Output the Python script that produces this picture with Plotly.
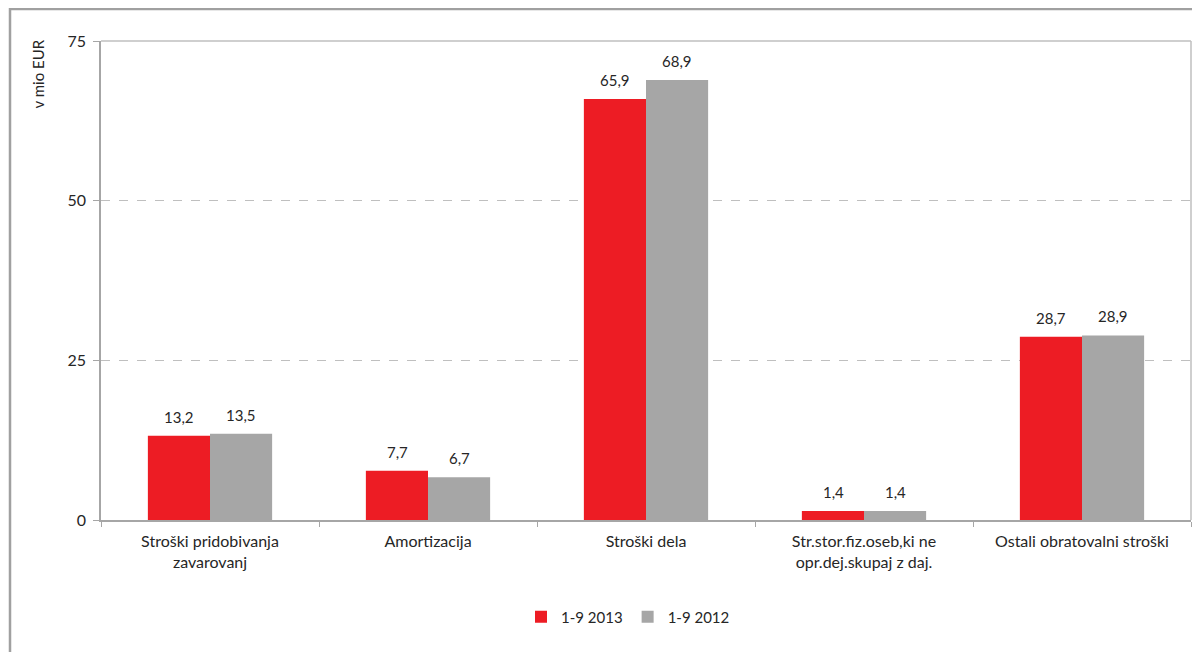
import plotly.graph_objects as go

# podatki
categories = [
    'Stroški pridobivanja<br>zavarovanj',
    'Amortizacija',
    'Stroški dela',
    'Str.stor.fiz.oseb,ki ne<br>opr.dej.skupaj z daj.',
    'Ostali obratovalni stroški',
]
vals_2013 = [13.2, 7.7, 65.9, 1.4, 28.7]
vals_2012 = [13.5, 6.7, 68.9, 1.4, 28.9]
y_ticks = [0, 25, 50, 75]

RED = '#ED1C24'
GREY = '#A6A6A6'
FONT = 'Lato'
TXT = '#262626'

# stran ima 8px odmika, zato vse pozicije v pikslih zamaknemo
OFF = 8
W, H = 1200, 652
L, T = 101 - OFF, 41 - OFF
R = W - (1191 - OFF)
B = H - (520 - OFF)
pw, ph = W - L - R, H - T - B

fig = go.Figure()

series = [('1-9 2013', vals_2013, RED, -31), ('1-9 2012', vals_2012, GREY, 31)]
for name, vals, col, shift in series:
    fig.add_trace(go.Bar(
        x=categories, y=vals, name=name,
        marker=dict(color=col, line=dict(width=0)),
    ))
    # oznake vrednosti nad stolpci
    for c, v in zip(categories, vals):
        fig.add_annotation(
            x=c, y=v, xref='x', yref='y',
            text=f'{v:.1f}'.replace('.', ','),
            showarrow=False, xshift=shift, yshift=8,
            yanchor='bottom', xanchor='center',
            font=dict(size=15, color=TXT),
        )

fig.update_layout(
    width=W, height=H,
    margin=dict(l=L, r=R, t=T, b=B, autoexpand=False),
    paper_bgcolor='white',
    plot_bgcolor='white',
    barmode='group',
    bargap=0.43,
    bargroupgap=0,
    separators=',.',
    font=dict(family=FONT, size=15, color=TXT),
    showlegend=True,
    legend=dict(
        orientation='h', x=(628 - 101) / pw, xanchor='center',
        y=-(617 - 520) / ph, yanchor='middle',
        font=dict(size=15), itemwidth=30,
        traceorder='normal',
    ),
)

fig.update_xaxes(
    type='category',
    tickson='boundaries',
    ticks='outside', ticklen=5, tickcolor='#a6a6a6',
    showline=True, linecolor='#a6a6a6', linewidth=1.5,
    showgrid=False,
    tickfont=dict(size=16),
    ticklabelstandoff=6,
)
fig.update_yaxes(
    range=[0, 75],
    tickvals=y_ticks,
    ticks='outside', ticklen=6, tickcolor='#a6a6a6',
    showline=True, linecolor='#a6a6a6', linewidth=1.5,
    showgrid=True, gridcolor='#bfbfbf', griddash='dash', gridwidth=1,
    zeroline=False,
    tickfont=dict(size=16),
    ticklabelstandoff=4,
)

# okvir grafa (zgoraj in desno)
fig.add_shape(type='line', xref='paper', yref='paper', x0=0, x1=1, y0=1, y1=1,
              line=dict(color='#bfbfbf', width=1.5))
fig.add_shape(type='line', xref='paper', yref='paper', x0=1, x1=1, y0=0, y1=1,
              line=dict(color='#bfbfbf', width=1.5))

# zunanji okvir
fig.add_shape(type='rect', xref='paper', yref='paper',
              x0=(10 - 101) / pw, x1=(1220 - 101) / pw,
              y0=-(680 - 520) / ph, y1=1 + (41 - 9) / ph,
              line=dict(color='#a0a0a0', width=2.5), layer='below')

# naslov osi y
fig.add_annotation(
    text='v mio EUR', textangle=-90,
    xref='paper', yref='paper',
    x=(37 - 101) / pw, y=1 + (41 - 38) / ph,
    xanchor='center', yanchor='top',
    showarrow=False, font=dict(size=15, color=TXT),
)

fig.write_html('out.html')
